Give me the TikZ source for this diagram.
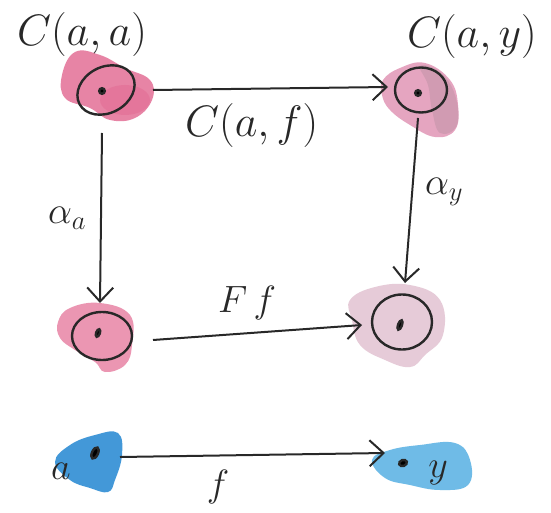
\RequirePackage{fix-cm}
\documentclass[tikz,border=0pt]{standalone}
\usetikzlibrary{arrows.meta,shapes.geometric,calc}
\definecolor{pinkw}{RGB}{222,80,128}
\definecolor{pinkl}{RGB}{225,150,182}
\definecolor{grayw}{RGB}{140,120,130}
\definecolor{pinkp}{RGB}{228,198,212}
\definecolor{bluew}{RGB}{35,135,210}
\definecolor{bluel}{RGB}{75,170,225}
\definecolor{ink}{RGB}{40,40,40}
\begin{document}
\begin{tikzpicture}[x=1pt,y=-1pt,
  ink/.style={draw=ink,line width=2.4pt},
  obj/.style={ellipse,ink,inner sep=0pt},
  arr/.style={draw=ink,line width=2pt,-{Straight Barb[length=14pt,width=26pt,line width=2pt]}},
  lbl/.style={text=ink,inner sep=0pt,font=\fontsize{44}{50}\selectfont},
  slbl/.style={text=ink,inner sep=0pt,font=\fontsize{38}{44}\selectfont}]
\useasboundingbox (0,0) rectangle (551,513);
\fill[white] (0,0) rectangle (551,513);
% watercolour blobs
\fill[pinkw,opacity=0.7] plot[smooth cycle,tension=0.7] coordinates
  {(62,75) (75,52) (100,55) (125,68) (150,80) (152,100) (135,118) (110,120) (90,108) (65,98)};
\fill[pinkw,opacity=0.25] (125,100) ellipse (25pt and 15pt);
\fill[pinkl,opacity=0.85] plot[smooth cycle,tension=0.7] coordinates
  {(383,80) (400,68) (425,63) (450,80) (458,105) (455,130) (435,137) (410,125) (390,110) (382,95)};
\fill[grayw,opacity=0.22] plot[smooth cycle,tension=0.7] coordinates
  {(420,66) (440,72) (455,95) (457,125) (440,133) (432,110) (428,85)};
\fill[pinkw,opacity=0.6] plot[smooth cycle,tension=0.7] coordinates
  {(58,322) (70,308) (100,303) (130,315) (132,345) (125,365) (105,372) (95,362) (75,350) (60,338)};
\fill[pinkp,opacity=0.9] plot[smooth cycle,tension=0.7] coordinates
  {(350,300) (375,287) (410,285) (440,300) (443,335) (425,355) (410,367) (385,360) (360,345) (352,320)};
\fill[bluew,opacity=0.85] plot[smooth cycle,tension=0.7] coordinates
  {(55,462) (70,445) (95,435) (118,433) (122,455) (115,480) (108,492) (90,488) (70,480)};
\fill[bluel,opacity=0.8] plot[smooth cycle,tension=0.7] coordinates
  {(372,460) (390,450) (420,445) (455,443) (470,460) (468,485) (440,490) (410,485) (385,478)};
% objects
\node[obj,minimum width=60pt,minimum height=46pt,rotate=28] (aa) at (106,90) {};
\node[obj,minimum width=52pt,minimum height=45pt] (ay) at (421,90) {};
\node[obj,minimum width=60pt,minimum height=48pt] (Fa) at (102,336) {};
\node[obj,minimum width=60pt,minimum height=55pt] (Fy) at (402,322) {};
\fill[ink] (102,91) circle (2.8pt);
\fill[ink] (418,93) circle (2.8pt);
\fill[ink,rotate around={70:(98,333)}] (98,333) ellipse (4pt and 1.9pt);
\fill[ink,rotate around={70:(400,325)}] (400,325) ellipse (5pt and 2pt);
\coordinate (a) at (95,453);
\coordinate (y) at (403,463);
\fill[ink,rotate around={65:(a)}] (a) ellipse (6pt and 3pt);
\fill[ink,rotate around={20:(y)}] (y) ellipse (4pt and 3pt);
% labels
\node[lbl] at (82,35) {$C(a,a)$};
\node[lbl] at (472,37) {$C(a,y)$};
\node[slbl] at (61,471) {$a$};
\node[slbl] at (438,473) {$y$};
% arrows
\draw[arr] ($(aa.center)+(47,0)$) -- node[lbl,pos=0.42,below=14pt] {$C(a,f)$} ($(ay.center)+(-33,-3)$);
\draw[arr] ($(aa.center)+(-4,43)$) -- node[slbl,left=14pt] {$\alpha_a$} ($(Fa.center)+(-2,-33)$);
\draw[arr] ($(ay.center)+(-3,28)$) -- node[slbl,right=12pt,pos=0.45] {$\alpha_y$} ($(Fy.center)+(3,-39)$);
\draw[arr] ($(Fa.center)+(51,4)$) -- node[slbl,above=12pt,pos=0.45] {$F\,f$} ($(Fy.center)+(-40,3)$);
\draw[arr] ($(a)+(25,4)$) -- node[slbl,below=14pt,pos=0.37] {$f$} ($(y)+(-18,-10)$);
\end{tikzpicture}
\end{document}
